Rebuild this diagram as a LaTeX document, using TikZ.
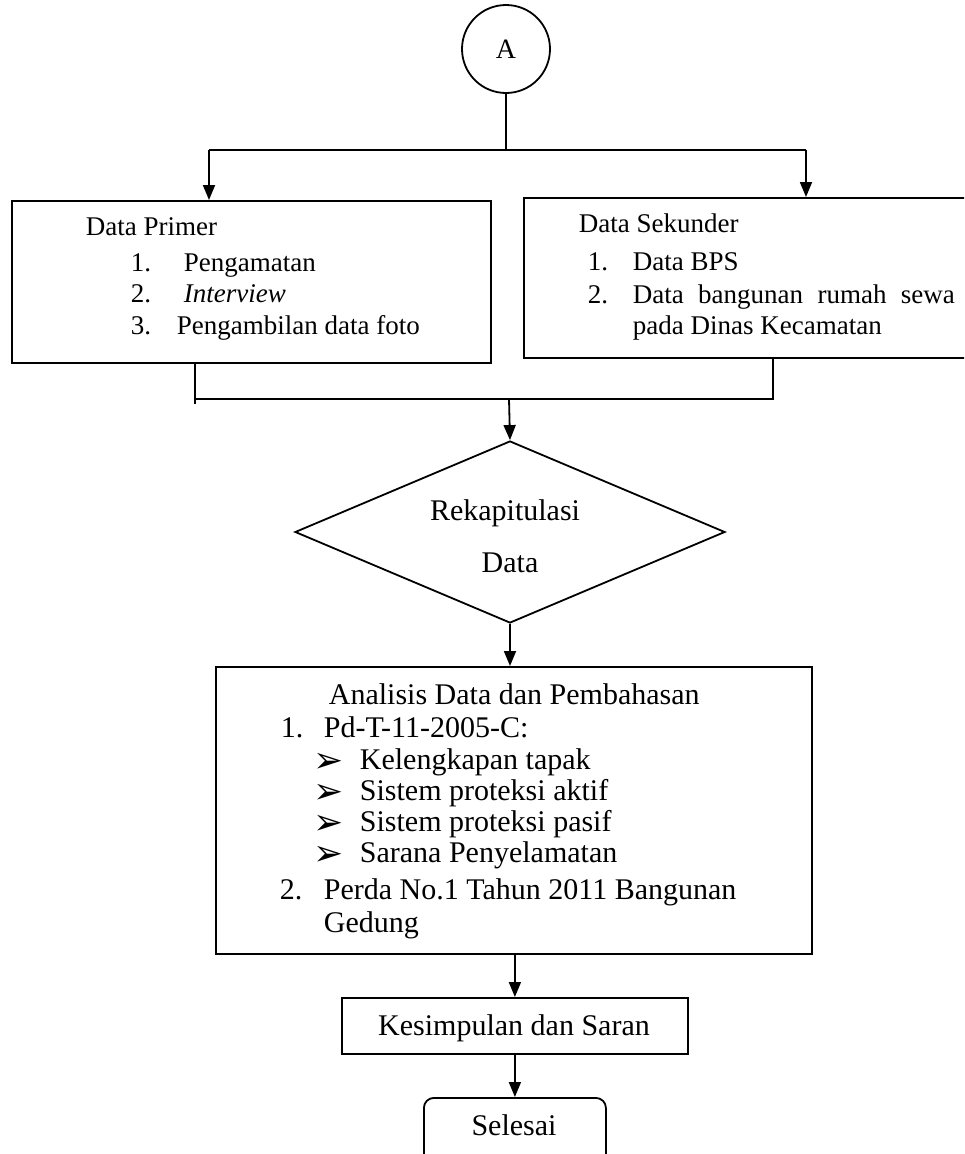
\documentclass[tikz,border=0pt]{standalone}
\usepackage{fontspec}
\setmainfont{Liberation Serif}
\newfontfamily\symfont{DejaVu Sans}
\usetikzlibrary{arrows.meta,shapes.geometric,positioning}

\begin{document}
\begin{tikzpicture} [x=1pt, y=-1pt, line width=1.8pt,
	box/.style={draw, rectangle, inner sep=0pt, anchor=north west},
	lbl/.style={anchor=base west, inner sep=0pt, text height=20pt, text depth=6pt, font=\fontsize{30}{34}\selectfont},
	smlbl/.style={anchor=base west, inner sep=0pt, text height=18pt, text depth=5pt, font=\fontsize{27}{31}\selectfont},
	bul/.style={anchor=base west, inner sep=0pt, text height=16pt, text depth=0pt, font=\symfont\fontsize{36}{38}\selectfont},
	arr/.style={-{Triangle[length=15pt,width=12pt]}}]
	\clip (0,0) rectangle (964,1154);

	% connector A
	\node [circle, draw, minimum size=88pt, inner sep=0pt, font=\fontsize{28}{30}\selectfont] (A) at (506,49) {A};

	% data boxes
	\node [box, minimum width=479pt, minimum height=162pt] (prim) at (11,200) {};
	\node [box, minimum width=470pt, minimum height=160pt] (sek) at (523,197) {};

	\node [smlbl] (primT) at (85,235) {Data Primer};
	\node [smlbl] (p1n) at (130,271) {1.};
	\node [smlbl] (p1) at (183,271) {Pengamatan};
	\node [smlbl] (p2n) at (130,302) {2.};
	\node [smlbl] (p2) at (183,302) {\textit{Interview}};
	\node [smlbl] (p3n) at (130,334) {3.};
	\node [smlbl] (p3) at (176,334) {Pengambilan data foto};

	\node [smlbl] (sekT) at (578,232) {Data Sekunder};
	\node [smlbl] (s1n) at (587,270) {1.};
	\node [smlbl] (s1) at (632,270) {Data BPS};
	\node [smlbl] (s2n) at (587,303) {2.};
	\node [smlbl] (s2) at (632,303) {\hbox to 322pt{Data\hfill bangunan\hfill rumah\hfill sewa}};
	\node [smlbl] (s2b) at (632,334) {pada Dinas Kecamatan};

	% rekap
	\node [diamond, draw, minimum width=430pt, minimum height=182pt, inner sep=0pt] (rekap) at (510,532) {};
	\node [lbl, anchor=base] (rekapT) at (505,520) {Rekapitulasi};
	\node [lbl, anchor=base] (rekapB) at (510,572) {Data};

	% analisis
	\node [box, minimum width=596pt, minimum height=287pt] (anal) at (215,666) {};
	\node [lbl] (analT) at (328,704) {Analisis Data dan Pembahasan};
	\node [lbl] (a1n) at (280,737) {1.};
	\node [lbl] (a1) at (323,737) {Pd-T-11-2005-C:};
	\foreach \txt [count=\i] in {Kelengkapan tapak, Sistem proteksi aktif, Sistem proteksi pasif, Sarana Penyelamatan} {
		\node [bul] (b\i) at (313,741+31*\i) {➢};
		\node [lbl] (t\i) at (359,738+31*\i) {\txt};
	}
	\node [lbl] (a2n) at (279,899) {2.};
	\node [lbl] (a2) at (323,899) {Perda No.1 Tahun 2011 Bangunan};
	\node [lbl] (a2b) at (323,932) {Gedung};

	% akhir
	\node [box, minimum width=346pt, minimum height=56pt] (simp) at (341,997) {};
	\node [lbl, anchor=base] (simpT) at (514,1035) {Kesimpulan dan Saran};
	\node [draw, rounded corners=10pt, minimum width=182pt, minimum height=76pt, inner sep=0pt, anchor=north west] (end) at (423,1097) {};
	\node [lbl, anchor=base] (endT) at (514,1135) {Selesai};

	% connectors
	\coordinate (split) at (506,150);
	\coordinate (splitL) at (209,150);
	\coordinate (splitR) at (806,150);
	\draw (A) -- (split);
	\draw (splitL) -- (splitR);
	\draw [arr] (splitL) -- (splitL |- prim.north);
	\draw [arr] (splitR) -- (splitR |- sek.north);

	\coordinate (joinL) at (195,399);
	\coordinate (joinR) at (773,399);
	\coordinate (join) at (509,399);
	\draw (joinL |- prim.south) -- (195,404);
	\draw (joinR |- sek.south) -- (joinR) -- (joinL);
	\draw [arr] (join) -- (rekap.north);

	\draw [arr] (rekap.south) -- (anal.north -| rekap.south);
	\draw [arr] (anal.south -| simp.north) -- (simp.north);
	\draw [arr] (simp.south) -- (end.north -| simp.south);
\end{tikzpicture}
\end{document}
